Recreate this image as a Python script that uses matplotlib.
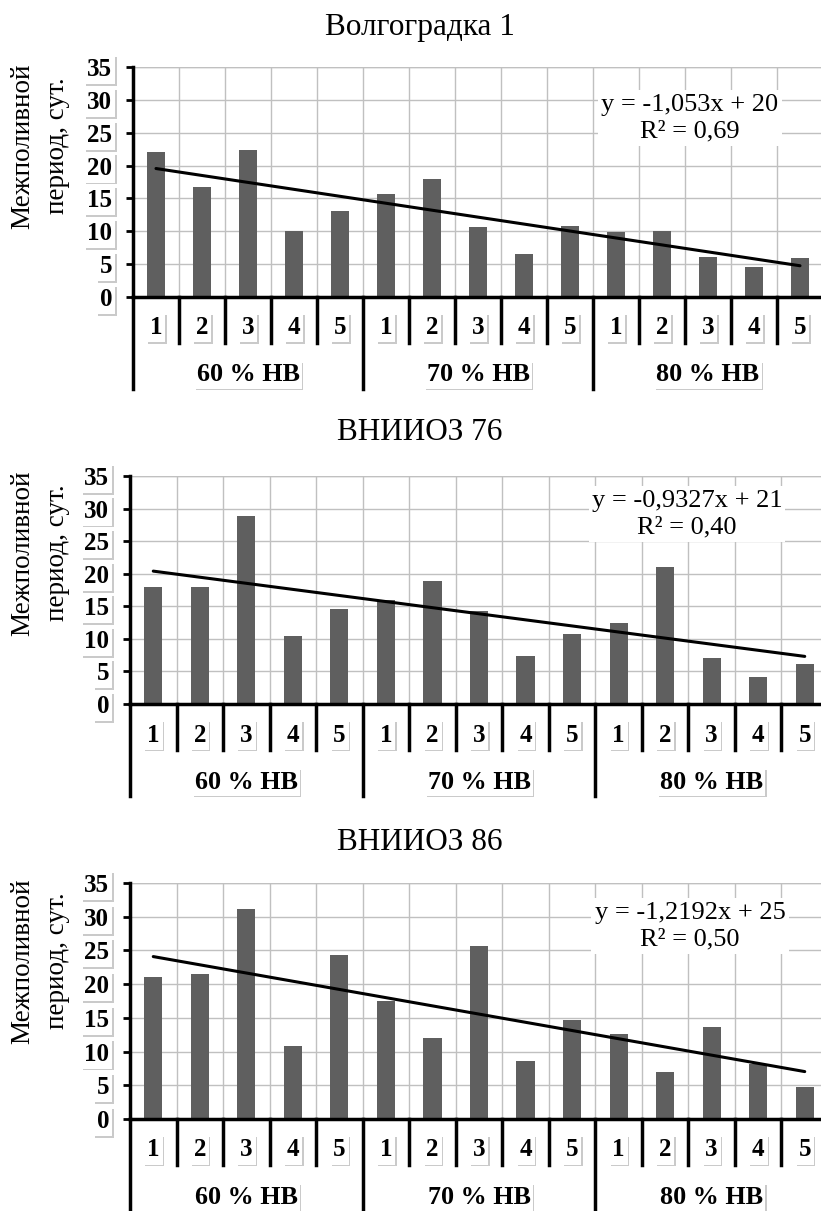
import matplotlib
matplotlib.use('Agg')
import matplotlib.pyplot as plt
import numpy as np
from matplotlib import patheffects as pe
from matplotlib.transforms import blended_transform_factory
from matplotlib.lines import Line2D

plt.rcParams['font.family'] = ['Liberation Serif', 'DejaVu Serif']

titles = ['Волгоградка 1', 'ВНИИОЗ 76', 'ВНИИОЗ 86']
groups = ['60 % НВ', '70 % НВ', '80 % НВ']
cats = ['1', '2', '3', '4', '5']
values_volgogradka1 = [22.0, 16.7, 22.3, 10.0, 13.1, 15.6, 18.0, 10.6, 6.5, 10.8, 9.9, 10.1, 6.1, 4.6, 6.0]
values_vniioz76 = [18.0, 18.0, 28.9, 10.5, 14.6, 15.9, 18.9, 14.2, 7.3, 10.7, 12.5, 21.0, 7.0, 4.1, 6.2]
values_vniioz86 = [21.0, 21.5, 31.1, 10.9, 24.3, 17.5, 12.0, 25.7, 8.6, 14.7, 12.6, 7.0, 13.6, 8.2, 4.7]
equations = ['y = -1,053x + 20\nR² = 0,69',
             'y = -0,9327x + 21\nR² = 0,40',
             'y = -1,2192x + 25\nR² = 0,50']
yticks = [0, 5, 10, 15, 20, 25, 30, 35]
ylabel = 'Межполивной\nпериод, сут.'

all_values = [values_volgogradka1, values_vniioz76, values_vniioz86]

W, H = 821, 1211
fig = plt.figure(figsize=(W / 100, H / 100), dpi=100)

# (left, top, right, bottom, title_y, ylabel_y, eq_x, eq_y) in pixels
layout = [
    (133, 67, 823, 297, 28, 146, 690, 118),
    (130, 476, 828, 704, 432, 553, 687, 514),
    (130, 883, 828, 1119, 843, 961, 690, 926),
]

BAR = '#5f5f5f'
GRID = '#c0c0c0'


def shadow_box(txt, pad=0.12):
    txt.set_bbox(dict(boxstyle=f'square,pad={pad}', fc='white', ec='none'))
    txt.get_bbox_patch().set_path_effects([
        pe.withSimplePatchShadow(offset=(1.0, -1.3), shadow_rgbFace='#8a8a8a', alpha=0.45),
        pe.Normal()])


for k, (l, t, r, b, ty, yly, ex, ey) in enumerate(layout):
    vals = all_values[k]
    n = len(vals)
    ah = b - t
    ax = fig.add_axes([l / W, 1 - b / H, (r - l) / W, ah / H])
    pos = np.arange(n)
    ax.bar(pos, vals, width=0.39, color=BAR, zorder=2)
    xs = np.arange(1, n + 1)
    coef = np.polyfit(xs, vals, 1)
    ax.plot(pos, np.polyval(coef, xs), color='black', lw=2.2, zorder=3,
            solid_capstyle='round')

    ax.set_xlim(-0.5, n - 0.5)
    ax.set_ylim(0, 35)
    ax.set_yticks(yticks)
    ax.set_yticklabels([str(v) for v in yticks], fontsize=18, fontweight='bold')
    ax.tick_params(axis='y', direction='out', length=5, width=2, pad=10, color='black')
    for lab in ax.get_yticklabels():
        shadow_box(lab)
    ax.set_xticks([])
    ax.set_xticks(np.arange(n + 1) - 0.5, minor=True)
    ax.tick_params(axis='x', which='both', length=0, labelbottom=False)
    ax.set_axisbelow(True)
    ax.grid(axis='y', which='major', color=GRID, lw=1)
    ax.grid(axis='x', which='minor', color=GRID, lw=1)
    for s in ['top', 'right']:
        ax.spines[s].set_visible(False)
    ax.spines['left'].set_linewidth(2.5)
    ax.spines['bottom'].set_linewidth(2.5)
    ax.axhline(35, color=GRID, lw=1, zorder=0)

    blend = blended_transform_factory(ax.transData, ax.transAxes)
    for i in range(n):
        xb = i - 0.5
        y1 = -92 / ah if i % 5 == 0 else -46 / ah
        ln = Line2D([xb, xb], [0, y1], transform=blend, color='black', lw=2.5,
                    clip_on=False)
        ax.add_line(ln)
    for i in range(n):
        tx = ax.text(i, -31 / ah, cats[i % 5], transform=blend, ha='center', va='center',
                     fontsize=18, fontweight='bold')
        shadow_box(tx)
    for g, gname in enumerate(groups):
        tx = ax.text(g * 5 + 2, -78 / ah, gname, transform=blend, ha='center', va='center',
                     fontsize=18.8, fontweight='bold')
        shadow_box(tx, pad=0.08)

    fig.text(420 / W, 1 - ty / H, titles[k], ha='center', va='center', fontsize=22.5)
    fig.text(40 / W, 1 - yly / H, ylabel, rotation=90, ha='center', va='center',
             fontsize=19.5, linespacing=1.5, multialignment='center')
    fig.text(ex / W, 1 - ey / H, equations[k], ha='center', va='center', fontsize=19,
             linespacing=1.28, multialignment='center',
             bbox=dict(boxstyle='square,pad=0.12', fc='white', ec='none'))

fig.savefig('out.png', dpi=100)
